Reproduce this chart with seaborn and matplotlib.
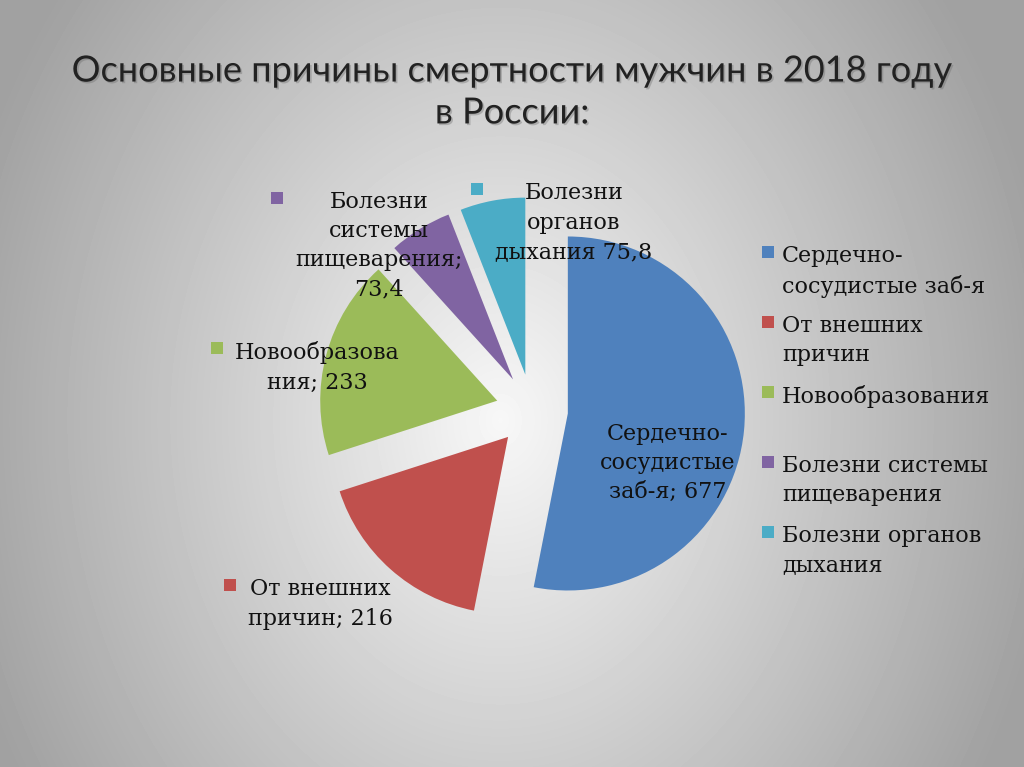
import numpy as np
import matplotlib
matplotlib.use("Agg")
import matplotlib.pyplot as plt
import matplotlib.patheffects as pe
from matplotlib.patches import Rectangle
import seaborn as sns

# data
categories = ["Сердечно-\nсосудистые заб-я", "От внешних\nпричин", "Новообразования",
              "Болезни системы\nпищеварения", "Болезни органов\nдыхания"]
values = [677, 216, 233, 73.4, 75.8]
value_labels = ["Сердечно-\nсосудистые\nзаб-я; 677", "От внешних\nпричин; 216",
                "Новообразова\nния; 233", "Болезни\nсистемы\nпищеварения;\n73,4",
                "Болезни\nорганов\nдыхания 75,8"]
colors = ["#4F81BD", "#C0504D", "#9BBB59", "#8064A2", "#4BACC6"]
title = "Основные причины смертности мужчин в 2018 году\nв России:"

sns.set_theme(style="white")
plt.rcParams["font.family"] = ["DejaVu Serif"]

W, H = 1024, 767
fig = plt.figure(figsize=(W / 100, H / 100), dpi=100)

# grey radial backdrop like the slide
bg = fig.add_axes([0, 0, 1, 1], zorder=0)
yy, xx = np.mgrid[0:H, 0:W]
d = np.sqrt(((xx - 500) / 560) ** 2 + ((yy - 420) / 700) ** 2)
shade = 0.97 - 0.34 * np.clip(d, 0, 1)
bg.imshow(shade, cmap="gray", vmin=0, vmax=1, aspect="auto")
bg.axis("off")

ax = fig.add_axes([0, 0, 1, 1], zorder=1)
ax.set_facecolor("none")
wedges, _ = ax.pie(values, colors=colors, startangle=90, counterclock=False,
                   explode=[36] * len(values), radius=177, center=(532, H - 410),
                   wedgeprops=dict(linewidth=0))
ax.set_xlim(0, W)
ax.set_ylim(0, H)
ax.set_aspect("equal")
ax.axis("off")

fig.text(0.5, 1 - 92 / H, title, ha="center", va="center", family=["Lato", "DejaVu Sans"],
         fontsize=26, color="#222222", linespacing=1.33,
         path_effects=[pe.withSimplePatchShadow(offset=(1.2, -1.2), shadow_rgbFace="#666666", alpha=0.35)])

# data labels
label_pos = [(668, 463), (320, 604), (317, 367.5), (379, 245.5), (574, 222.5)]
label_key = [False, True, True, True, True]
txts = []
for lab, (x, y) in zip(value_labels, label_pos):
    t = ax.text(x, H - y, lab, ha="center", va="center", multialignment="center",
                fontsize=16, color="#111111", linespacing=1.42)
    txts.append(t)

fig.canvas.draw()
for t, c, key in zip(txts, colors, label_key):
    if not key:
        continue
    bb = t.get_window_extent()
    ax.add_patch(Rectangle((bb.x0 - 24, bb.y1 - 13), 12, 12, color=c, lw=0))

# legend on the right, one slot of two lines per entry
for i, (cat, c) in enumerate(zip(categories, colors)):
    yc = 256 + 70 * i
    ax.add_patch(Rectangle((762, H - yc - 2), 12, 12, color=c, lw=0))
    ax.text(782, H - yc + 11, cat, ha="left", va="top", fontsize=16,
            color="#111111", linespacing=1.42)

fig.savefig("out.png", dpi=100)
